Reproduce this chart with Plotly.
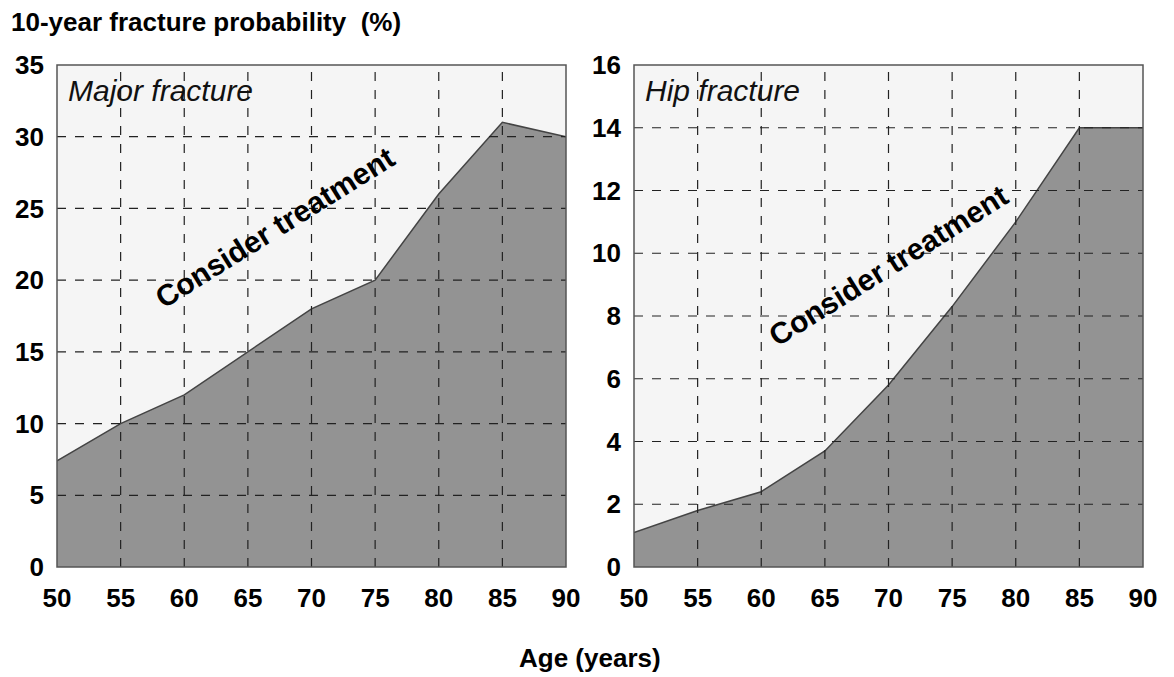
import plotly.graph_objects as go

ages = [50, 55, 60, 65, 70, 75, 80, 85, 90]
major = [7.4, 10, 12, 15, 18, 20, 26, 31, 30]
hip = [1.1, 1.8, 2.4, 3.7, 5.8, 8.3, 11, 14, 14]
x_ticks = [50, 55, 60, 65, 70, 75, 80, 85, 90]
major_ticks = [0, 5, 10, 15, 20, 25, 30, 35]
hip_ticks = [0, 2, 4, 6, 8, 10, 12, 14, 16]

W, H = 1174, 677
OFF = 8  # page body margin
L, R, T, B = 57 - OFF, 31 + OFF, 65 - OFF, 110 + OFF
PW = W - L - R
PH = H - T - B
FONT = "Liberation Sans, Arial, sans-serif"
fig = go.Figure()

fig.add_trace(go.Scatter(x=ages, y=major, mode="lines", fill="tozeroy",
                         fillcolor="#939393", line=dict(color="#444444", width=1.5),
                         xaxis="x", yaxis="y", hoverinfo="skip"))
fig.add_trace(go.Scatter(x=ages, y=hip, mode="lines", fill="tozeroy",
                         fillcolor="#939393", line=dict(color="#444444", width=1.5),
                         xaxis="x2", yaxis="y2", hoverinfo="skip"))

shapes = []
for xr, yr, yt in [("x", "y", major_ticks), ("x2", "y2", hip_ticks)]:
    for t in x_ticks[1:-1]:
        shapes.append(dict(type="line", xref=xr, yref=yr + " domain", x0=t, x1=t, y0=0, y1=1,
                           line=dict(color="#222222", width=1.2, dash="dash"), layer="above"))
    for t in yt[1:-1]:
        shapes.append(dict(type="line", xref=xr + " domain", yref=yr, x0=0, x1=1, y0=t, y1=t,
                           line=dict(color="#222222", width=1.2, dash="dash"), layer="above"))
    shapes.append(dict(type="rect", xref=xr + " domain", yref=yr + " domain", x0=0, x1=1, y0=0, y1=1,
                       line=dict(color="#555555", width=1.5), layer="above"))

tf = dict(family=FONT, size=26, color="black", weight="bold")
xax = dict(showgrid=False, zeroline=False, showline=False, ticks="", automargin=False,
           tickfont=tf, ticklabelstandoff=13, range=[50, 90], tickvals=x_ticks)
yax = dict(showgrid=False, zeroline=False, showline=False, ticks="", automargin=False,
           tickfont=tf, ticklabelstandoff=12, domain=[0, 1])
fig.update_layout(
    width=W, height=H, margin=dict(l=L, r=R, t=T, b=B),
    paper_bgcolor="white", plot_bgcolor="#f5f5f5", showlegend=False,
    shapes=shapes,
    xaxis=dict(domain=[0, 509 / PW], anchor="y", **xax),
    yaxis=dict(range=[0, 35], tickvals=major_ticks, anchor="x", **yax),
    xaxis2=dict(domain=[(634 - 57) / PW, 1], anchor="y2", **xax),
    yaxis2=dict(range=[0, 16], tickvals=hip_ticks, anchor="x2", **yax),
)


def px(xs):
    return (xs - OFF - L) / PW


def py(ys):
    return 1 - (ys - OFF - T) / PH


fig.add_annotation(text="10-year fracture probability  (%)", xref="paper", yref="paper",
                   x=px(9), y=py(22), xanchor="left", yanchor="middle",
                   showarrow=False, font=dict(family=FONT, size=26, color="black", weight="bold"))
fig.add_annotation(text="Age (years)", xref="paper", yref="paper",
                   x=px(590), y=py(658), xanchor="center", yanchor="middle",
                   showarrow=False, font=dict(family=FONT, size=26, color="black", weight="bold"))
fig.add_annotation(text="<i>Major fracture</i>", xref="x domain", yref="y domain",
                   x=0.018, y=0.95, xanchor="left", yanchor="middle", showarrow=False,
                   font=dict(family=FONT, size=30, color="#111111"))
fig.add_annotation(text="<i>Hip fracture</i>", xref="x2 domain", yref="y2 domain",
                   x=0.018, y=0.95, xanchor="left", yanchor="middle", showarrow=False,
                   font=dict(family=FONT, size=30, color="#111111"))
fig.add_annotation(text="Consider treatment", xref="x", yref="y", x=67.1, y=23.7,
                   textangle=-32, showarrow=False,
                   font=dict(family=FONT, size=30, color="black", weight="bold"))
fig.add_annotation(text="Consider treatment", xref="x2", yref="y2", x=70.0, y=9.6,
                   textangle=-32, showarrow=False,
                   font=dict(family=FONT, size=30, color="black", weight="bold"))

fig.write_html("out.html")
